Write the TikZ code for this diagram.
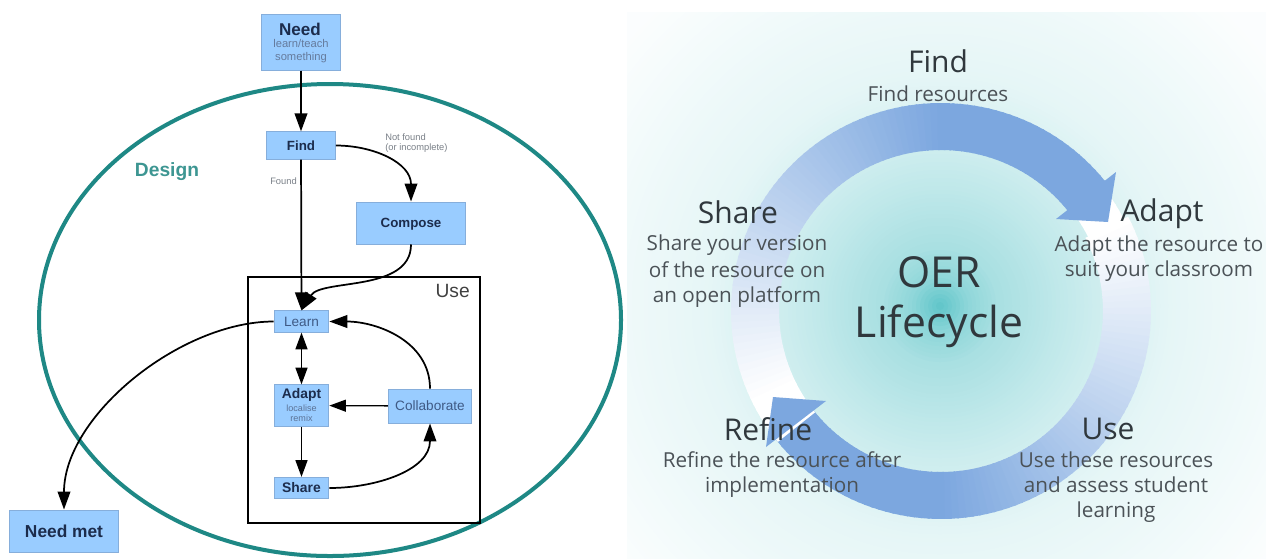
\documentclass[tikz,border=0pt]{standalone}
\usepackage{fontspec}
\setmainfont{Liberation Sans}
\newfontfamily\opensans{Open Sans}
\usetikzlibrary{arrows.meta}
\definecolor{boxblue}{HTML}{99CCFF}
\definecolor{boxedge}{HTML}{86AEDB}
\definecolor{tealring}{HTML}{1E8885}
\definecolor{designc}{HTML}{3D9692}
\definecolor{arrowblue}{HTML}{7CA7DF}
\definecolor{headc}{HTML}{30383D}
\definecolor{bodyc}{HTML}{4B5257}
\definecolor{darktxt}{HTML}{1C2C4C}
\definecolor{softtxt}{HTML}{3F5A85}
\definecolor{faint}{HTML}{7A8088}
\definecolor{glowteal}{HTML}{5CC4C8}
\newcommand{\fs}[1]{\fontsize{#1}{#1}\selectfont}
\tikzset{
  x=0.75pt,y=-0.75pt,
  flowbox/.style={draw=boxedge,fill=boxblue,line width=0.7pt,inner sep=0pt,align=center,text=darktxt},
  flow/.style={draw=black,line width=1.3pt,-{Triangle[length=13.5pt,width=9.5pt]}},
  flowthin/.style={draw=black,line width=1pt,-{Triangle[length=12.5pt,width=9pt]}},
  head/.style={font=\opensans\fs{22.5},text=headc,inner sep=0pt},
  body/.style={font=\opensans\fs{15.5},text=bodyc,inner sep=0pt,align=center},
}
\begin{document}
\begin{tikzpicture}
\useasboundingbox (0,0) rectangle (1266,558);
\fill[white] (0,0) rectangle (1266,558);
% right panel glow
\begin{scope}
\clip (627,12) rectangle (1266,558);
\foreach \r in {460,456,...,4}{
  \pgfmathsetmacro{\p}{\r<30?100-1.03*\r:(\r<60?69-0.53*(\r-30):(\r<150?53-0.233*(\r-60):(\r<230?32-0.2*(\r-150):max(2.5,16-0.075*(\r-230)))))}
  \fill[glowteal!\p!white] (940,306) circle (\r);
}
\end{scope}
% ring arrows
\foreach \a in {27,25,...,-141}{
  \pgfmathsetmacro{\p}{min(100,(27-\a)/168*145)}
  \fill[arrowblue!\p!white]
    ({941+210*cos(\a)},{311-208*sin(\a)}) -- ({941+210*cos(\a-2.5)},{311-208*sin(\a-2.5)})
    -- ({941+162*cos(\a-2.5)},{311-161*sin(\a-2.5)}) -- ({941+162*cos(\a)},{311-161*sin(\a)}) -- cycle;
}
\foreach \a in {38,36,...,28}{
  \fill[white]
    ({941+205*cos(\a)},{311-203*sin(\a)}) -- ({941+205*cos(\a-2.5)},{311-203*sin(\a-2.5)})
    -- ({941+165*cos(\a-2.5)},{311-164*sin(\a-2.5)}) -- ({941+165*cos(\a)},{311-164*sin(\a)}) -- cycle;
}
\foreach \a in {219,217,...,39}{
  \pgfmathsetmacro{\p}{max(0,min(100,(207-\a)/168*145))}
  \fill[arrowblue!\p!white]
    ({941+210*cos(\a)},{311-208*sin(\a)}) -- ({941+210*cos(\a-2.5)},{311-208*sin(\a-2.5)})
    -- ({941+162*cos(\a-2.5)},{311-161*sin(\a-2.5)}) -- ({941+162*cos(\a)},{311-161*sin(\a)}) -- cycle;
}
\fill[arrowblue] (1116,172) -- (1108,222) -- (1056,219) -- cycle;
\fill[arrowblue] (766,447) -- (773,397) -- (826,401) -- cycle;
% right texts
\node[font=\opensans\fs{32},text=headc,align=center,inner sep=0pt] (oer) at (939,302) {OER\\[6pt]Lifecycle};
\node[head] (tfind) at (938,61) {Find};
\node[body] (dfind) at (938,94) {Find resources};
\node[head] (tadapt) at (1162,214) {Adapt};
\node[body] (dadapt) at (1159,259) {Adapt the resource to\\[3.2pt]suit your classroom};
\node[head] (tshare) at (738,212) {Share};
\node[body] (dshare) at (737,271) {Share your version\\[3.2pt]of the resource on\\[3.2pt]an open platform};
\node[head] (trefine) at (768,429) {Refine};
\node[body] (drefine) at (782,475) {Refine the resource after\\[3.2pt]implementation};
\node[head] (tuse) at (1108,429) {Use};
\node[body] (duse) at (1116,487) {Use these resources\\[3.2pt]and assess student\\[3.2pt]learning};
% left diagram
\draw[tealring,line width=3pt] (330,320) ellipse (291 and 236);
\node[font=\bfseries\fs{14.4},text=designc,inner sep=0pt] (design) at (167,172) {Design};
\node[draw=black,line width=1.5pt,minimum width=174pt,minimum height=184.5pt,inner sep=0pt,anchor=north west] (usebox) at (246.5,275.5) {};
\node[font=\fs{14.4},text=black!75,inner sep=0pt,anchor=north east] (uselab) at (470,284) {Use};
\node[flowbox,minimum width=59pt,minimum height=41.5pt] (need) at (301,42.5) {};
\node[font=\bfseries\fs{12.8},text=darktxt,inner sep=0pt] (needt) at (300,29) {Need};
\node[font=\fs{8.4},text=softtxt!80,inner sep=0pt,align=center] (needs) at (301,51) {learn/teach\\[1.2pt]something};
\node[flowbox,minimum width=51.5pt,minimum height=20.5pt,font=\bfseries\fs{10}] (find) at (301,145.5) {Find};
\node[flowbox,minimum width=82pt,minimum height=31.5pt,font=\bfseries\fs{10},text depth=0pt] (compose) at (411,223) {Compose};
\node[flowbox,minimum width=41pt,minimum height=16pt,font=\fs{10.2},text=softtxt] (learn) at (301.5,321.5) {Learn};
\node[flowbox,minimum width=41pt,minimum height=31pt] (adapt) at (301.5,405.5) {};
\node[font=\bfseries\fs{10.4},text=darktxt,inner sep=0pt] (adaptt) at (301.5,395) {Adapt};
\node[font=\fs{6.8},text=softtxt!85,inner sep=0pt,align=center] (adapts) at (301.5,413) {localise\\[1pt]remix};
\node[flowbox,minimum width=62.5pt,minimum height=25.5pt,font=\fs{10.2},text=softtxt] (collab) at (430,406) {Collaborate};
\node[flowbox,minimum width=41pt,minimum height=16pt,font=\bfseries\fs{10.4}] (share) at (301.5,488) {Share};
\node[flowbox,minimum width=82pt,minimum height=31.5pt,font=\bfseries\fs{13}] (needmet) at (64,531) {Need met};
\node[font=\fs{7},text=faint,inner sep=0pt,align=left,anchor=west] (notfound) at (385,143) {Not found\\[1pt](or incomplete)};
\node[font=\fs{7},text=faint,inner sep=0pt,anchor=west] (found) at (270,181) {Found};
\draw[flow] (need) -- (find);
\draw[flow] (find) -- (learn);
\draw[flow] (find.east) to[out=0,in=90,looseness=1.05] (compose.north);
\draw[flow] (compose.south) .. controls +(0,48) and +(20,-32) .. (learn.north);
\draw[flowthin,{Triangle[length=12.5pt,width=9pt]}-{Triangle[length=12.5pt,width=9pt]}] (learn) -- (adapt);
\draw[flowthin] (collab) -- (adapt);
\draw[flowthin] (adapt) -- (share);
\draw[flow] (share.east) to[out=0,in=-90,looseness=1] (collab.south);
\draw[flow] (collab.north) to[out=90,in=0,looseness=1] (learn.east);
\draw[flow] (learn.west) to[out=180,in=90,looseness=0.85] (needmet.north);
\end{tikzpicture}
\end{document}
